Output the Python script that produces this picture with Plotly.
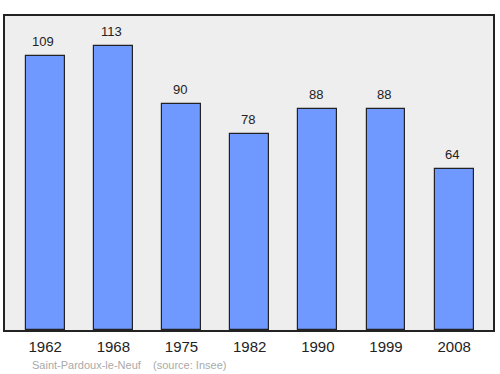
import plotly.graph_objects as go

years = ["1962", "1968", "1975", "1982", "1990", "1999", "2008"]
population = [109, 113, 90, 78, 88, 88, 64]
footer_text = "Saint-Pardoux-le-Neuf    (source: Insee)"

xs = list(range(len(years)))

fig = go.Figure()
fig.add_trace(go.Bar(
    x=xs, y=population, width=0.57,
    marker=dict(color="#7099ff", line=dict(color="#222222", width=1.2)),
    hoverinfo="skip",
))

for x, v in zip(xs, population):
    fig.add_annotation(x=x, y=v, text=str(v), showarrow=False, yanchor="bottom",
                       yshift=5, xshift=-2,
                       font=dict(size=13, color="#222222", family="Liberation Sans"))

fig.add_annotation(x=0.051, xref="paper", y=-0.11, yref="paper", xanchor="left", yanchor="middle",
                   text=footer_text.replace(" ", "&nbsp;"), showarrow=False,
                   font=dict(size=11, color="#aaaaaa", family="Liberation Sans"))

fig.update_layout(
    width=500, height=374,
    margin=dict(l=5, r=5, t=16, b=44),
    paper_bgcolor="white", plot_bgcolor="#eeeeee",
    showlegend=False,
    bargap=0,
    xaxis=dict(range=[-0.59, 6.57], tickmode="array", tickvals=xs, ticktext=years,
               showgrid=False, zeroline=False, showline=True, mirror=True,
               linecolor="#222222", linewidth=1.5, ticks="", ticklabelstandoff=2,
               tickfont=dict(size=15, color="#222222", family="Liberation Sans")),
    yaxis=dict(range=[0, 125], showgrid=False, zeroline=False, showticklabels=False,
               showline=True, mirror=True, linecolor="#222222", linewidth=1.5, ticks=""),
)

fig.write_html("out.html")
